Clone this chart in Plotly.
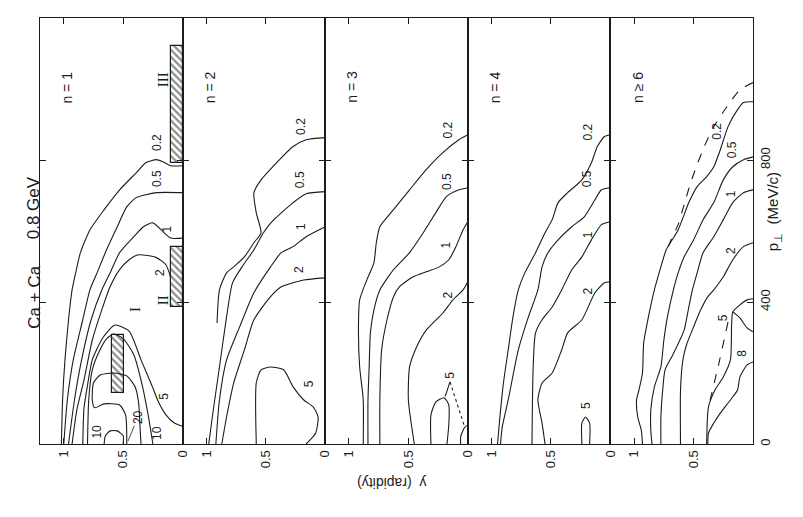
import plotly.graph_objects as go

# ------------------------------------------------------------------ data
PANEL_TITLES = ["n = 1", "n = 2", "n = 3", "n = 4", "n \u2265 6"]
RAPIDITY_RANGE = [1.2, 0]
PT_RANGE = [0, 1200]
RAP_TICKS = [1, 0.5, 0]
RAP_TICK_TEXT = ["1", "0.5", "0"]
PT_TICKS = [0, 400, 800]
PT_TICK_TEXT = ["0", "400", "800"]

# contour lines, (rapidity, p_perp MeV/c) pairs
# panel n = 1
n1_c02 = [(0, 784), (0.10, 784), (0.165, 795), (0.22, 801), (0.31, 792), (0.39, 764), (0.53, 716), (0.66, 660),
          (0.78, 603), (0.86, 539), (0.90, 482), (0.93, 434), (0.96, 350), (0.99, 237), (1.01, 124), (1.02, 0)]
n1_c05 = [(0, 708), (0.22, 708), (0.39, 694), (0.47, 668), (0.55, 612), (0.64, 547), (0.72, 482), (0.78, 434),
          (0.84, 350), (0.92, 237), (0.97, 124), (1.0, 0)]
n1_c1 = [(0, 580), (0.10, 580), (0.18, 603), (0.25, 623), (0.33, 612), (0.41, 584), (0.53, 539), (0.61, 482),
         (0.68, 434), (0.77, 350), (0.85, 237), (0.91, 124), (0.96, 0)]
n1_c2 = [(0.10, 468), (0.14, 505), (0.22, 525), (0.37, 533), (0.45, 519), (0.53, 491), (0.61, 443), (0.68, 378),
         (0.76, 293), (0.83, 180), (0.89, 96), (0.93, 0)]
n1_c5 = [(0.84, 0), (0.83, 100), (0.80, 166), (0.76, 237), (0.67, 300), (0.57, 335), (0.45, 318), (0.35, 237),
         (0.26, 166), (0.20, 116), (0.14, 82), (0.07, 59), (0, 50)]
n1_c10 = [(0.80, 0), (0.79, 124), (0.76, 209), (0.70, 262), (0.64, 296), (0.58, 310), (0.50, 297), (0.41, 251),
          (0.34, 166), (0.29, 82), (0.25, 0)]
n1_c10b = [(0.66, 0), (0.65, 23), (0.61, 37), (0.55, 37), (0.50, 23), (0.50, 0)]
n1_c20 = [(0.47, 0), (0.48, 82), (0.53, 110), (0.66, 113), (0.74, 102), (0.76, 124), (0.75, 172), (0.69, 195),
          (0.58, 200), (0.47, 192), (0.40, 161), (0.37, 116), (0.36, 59), (0.35, 0)]

# panel n = 2
n2_c02 = [(0, 863), (0.16, 857), (0.27, 838), (0.41, 792), (0.54, 744), (0.60, 708), (0.58, 651), (0.54, 595),
          (0.60, 567), (0.68, 527), (0.77, 499), (0.83, 482), (0.89, 434), (0.91, 341)]
n2_c05 = [(0, 711), (0.16, 705), (0.27, 680), (0.37, 651), (0.45, 626), (0.52, 595), (0.60, 547), (0.70, 499),
          (0.78, 454), (0.83, 358), (0.89, 217), (0.95, 76), (0.98, 0)]
n2_c1 = [(0, 612), (0.16, 584), (0.27, 556), (0.37, 539), (0.46, 499), (0.60, 426), (0.72, 330), (0.83, 237),
         (0.89, 124), (0.92, 0)]
n2_c2 = [(0, 468), (0.18, 462), (0.37, 443), (0.46, 415), (0.60, 350), (0.68, 265), (0.77, 172), (0.83, 76),
         (0.87, 0)]
n2_c5 = [(0.58, 0), (0.58, 172), (0.54, 209), (0.46, 217), (0.35, 209), (0.27, 161), (0.18, 124), (0.10, 104),
         (0.06, 76), (0.08, 31), (0.16, 0)]

# panel n = 3
n3_c02 = [(0, 871), (0.075, 857), (0.21, 821), (0.35, 773), (0.49, 716), (0.625, 660), (0.74, 612), (0.77, 567),
          (0.79, 510), (0.85, 462), (0.91, 406), (0.92, 313), (0.91, 217), (0.88, 124), (0.88, 0)]
n3_c05 = [(0, 722), (0.075, 716), (0.18, 697), (0.27, 651), (0.375, 595), (0.49, 539), (0.625, 491), (0.74, 434),
          (0.79, 378), (0.82, 313), (0.83, 217), (0.84, 124), (0.84, 0)]
n3_c1 = [(0, 626), (0.04, 603), (0.10, 556), (0.16, 519), (0.24, 499), (0.35, 485), (0.46, 471), (0.575, 443),
         (0.625, 415), (0.68, 350), (0.725, 265), (0.74, 124), (0.74, 0)]
n3_c2 = [(0, 457), (0.04, 434), (0.125, 406), (0.21, 369), (0.35, 321), (0.43, 274), (0.49, 217), (0.50, 124),
         (0.45, 0)]
n3_c5 = [(0.31, 0), (0.31, 82), (0.27, 118), (0.20, 130), (0.16, 110), (0.16, 54), (0.175, 0)]
n3_c5b = [(0, 54), (0.03, 45), (0.06, 20), (0.06, 0)]
n3_lead = [(0.15, 175), (0.19, 134)]
n3_lead_dot = [(0.15, 175), (0.03, 52)]

# panel n = 4
n4_c02 = [(0, 871), (0.05, 866), (0.11, 838), (0.16, 792), (0.24, 744), (0.36, 708), (0.44, 680), (0.49, 632),
          (0.55, 595), (0.63, 539), (0.72, 482), (0.775, 434), (0.82, 358), (0.86, 265), (0.90, 172), (0.93, 76),
          (0.95, 0)]
n4_c05 = [(0, 722), (0.075, 716), (0.13, 688), (0.22, 640), (0.325, 612), (0.44, 575), (0.525, 539), (0.575, 499),
          (0.61, 434), (0.69, 358), (0.775, 265), (0.86, 124), (0.91, 48), (0.925, 0)]
n4_c1 = [(0, 626), (0.075, 618), (0.16, 575), (0.24, 527), (0.325, 491), (0.41, 434), (0.49, 386), (0.575, 350),
         (0.63, 313), (0.65, 217), (0.66, 0)]
n4_c2 = [(0, 457), (0.05, 454), (0.13, 426), (0.24, 350), (0.36, 313), (0.41, 265), (0.49, 200), (0.575, 172),
         (0.61, 124), (0.575, 59), (0.55, 0)]
n4_c5 = [(0.24, 0), (0.24, 59), (0.21, 76), (0.175, 59), (0.175, 0)]

# panel n >= 6
n6_dash = [(0, 1018), (0.11, 998), (0.22, 950), (0.33, 894), (0.41, 838), (0.47, 787), (0.525, 736), (0.58, 674),
           (0.63, 618), (0.69, 575), (0.73, 541)]
n6_c02 = [(0, 964), (0.08, 962), (0.13, 942), (0.21, 894), (0.275, 829), (0.33, 781), (0.39, 753), (0.47, 725),
          (0.54, 680), (0.63, 603), (0.73, 547), (0.79, 482), (0.83, 434), (0.88, 358), (0.92, 285), (0.93, 200),
          (0.96, 152), (0.98, 124), (0.97, 76), (0.94, 39), (0.93, 0)]
n6_c05 = [(0, 809), (0.08, 801), (0.17, 781), (0.25, 744), (0.33, 680), (0.42, 632), (0.50, 575), (0.58, 527),
          (0.63, 482), (0.67, 434), (0.72, 358), (0.75, 293), (0.775, 217), (0.83, 161), (0.86, 96), (0.86, 39),
          (0.85, 0)]
n6_c1 = [(0, 716), (0.08, 708), (0.17, 680), (0.25, 632), (0.33, 584), (0.42, 539), (0.47, 482), (0.51, 434),
         (0.54, 386), (0.58, 321), (0.675, 251), (0.74, 209), (0.76, 152), (0.775, 76), (0.775, 0)]
n6_c2 = [(0, 567), (0.08, 556), (0.17, 519), (0.25, 471), (0.33, 434), (0.38, 415), (0.44, 378), (0.50, 330),
         (0.56, 279), (0.59, 237), (0.61, 152), (0.61, 0)]
n6_c5 = [(0, 409), (0.05, 406), (0.11, 392), (0.17, 372), (0.18, 336), (0.19, 237), (0.25, 189), (0.32, 152),
         (0.375, 104), (0.39, 0)]
n6_c5b = [(0.17, 372), (0.11, 355), (0.05, 327), (0, 316)]
n6_c8 = [(0, 231), (0.05, 223), (0.11, 189), (0.13, 152), (0.19, 124), (0.275, 87), (0.33, 59), (0.375, 31),
         (0.38, 0)]
n6_dash5 = [(0.21, 344), (0.29, 223), (0.375, 104)]

# hatched acceptance regions in panel n = 1 : name, rapidity low/high, p_perp low/high
REGION_NAMES = ["I", "II", "III"]
REGION_RAP_LO = [0.49, 0.0, 0.0]
REGION_RAP_HI = [0.59, 0.10, 0.10]
REGION_PT_LO = [144, 386, 792]
REGION_PT_HI = [307, 555, 1120]
REGION_LABEL_RAP = [0.40, 0.17, 0.17]
REGION_LABEL_PT = [378, 406, 1026]

# contour list: panel, points, dash
CONTOURS = [
    (1, n1_c02, "solid"), (1, n1_c05, "solid"), (1, n1_c1, "solid"), (1, n1_c2, "solid"),
    (1, n1_c5, "solid"), (1, n1_c10, "solid"), (1, n1_c10b, "solid"), (1, n1_c20, "solid"),
    (2, n2_c02, "solid"), (2, n2_c05, "solid"), (2, n2_c1, "solid"), (2, n2_c2, "solid"), (2, n2_c5, "solid"),
    (3, n3_c02, "solid"), (3, n3_c05, "solid"), (3, n3_c1, "solid"), (3, n3_c2, "solid"),
    (3, n3_c5, "solid"), (3, n3_c5b, "solid"), (3, n3_lead, "solid"), (3, n3_lead_dot, "dot"),
    (4, n4_c02, "solid"), (4, n4_c05, "solid"), (4, n4_c1, "solid"), (4, n4_c2, "solid"), (4, n4_c5, "solid"),
    (5, n6_dash, "dash"), (5, n6_c02, "solid"), (5, n6_c05, "solid"), (5, n6_c1, "solid"), (5, n6_c2, "solid"),
    (5, n6_c5, "solid"), (5, n6_c5b, "solid"), (5, n6_c8, "solid"), (5, n6_dash5, "dash"),
]

# contour level labels: panel, text, rapidity, p_perp
LEVEL_LABELS = [
    (1, "0.2", 0.21, 850), (1, "0.5", 0.21, 748), (1, "1", 0.13, 605), (1, "2", 0.19, 482),
    (1, "5", 0.16, 135), (1, "10", 0.21, 30), (1, "10", 0.72, 35),
    (2, "0.2", 0.21, 894), (2, "0.5", 0.21, 744), (2, "1", 0.21, 612), (2, "2", 0.22, 490), (2, "5", 0.14, 170),
    (3, "0.2", 0.17, 885), (3, "0.5", 0.17, 740), (3, "1", 0.18, 560), (3, "2", 0.17, 420), (3, "5", 0.15, 195),
    (4, "0.2", 0.19, 880), (4, "0.5", 0.19, 748), (4, "1", 0.19, 590), (4, "2", 0.19, 432), (4, "5", 0.21, 108),
    (5, "0.2", 0.31, 880), (5, "0.5", 0.17, 830), (5, "1", 0.19, 705), (5, "2", 0.19, 545),
    (5, "5", 0.25, 355), (5, "8", 0.09, 255),
]

# ------------------------------------------------------------------ figure
INK = "#1c1c1c"
FONT = "Liberation Sans, Arial, sans-serif"
fig = go.Figure()


def ax(i, kind):
    return kind if i == 1 else f"{kind}{i}"


for panel, pts, dash in CONTOURS:
    fig.add_trace(go.Scatter(
        x=[p[0] for p in pts], y=[p[1] for p in pts], mode="lines",
        line=dict(color=INK, width=1.1, dash=dash, shape="spline", smoothing=0.6),
        xaxis=ax(panel, "x"), yaxis=ax(panel, "y"), showlegend=False, hoverinfo="skip"))

fig.add_trace(go.Bar(
    x=[(lo + hi) / 2 for lo, hi in zip(REGION_RAP_LO, REGION_RAP_HI)],
    width=[hi - lo for lo, hi in zip(REGION_RAP_LO, REGION_RAP_HI)],
    base=REGION_PT_LO,
    y=[hi - lo for lo, hi in zip(REGION_PT_LO, REGION_PT_HI)],
    marker=dict(color="white", line=dict(color=INK, width=1.2),
                pattern=dict(shape="\\", fgcolor=INK, bgcolor="white", size=5, solidity=0.45)),
    xaxis="x", yaxis="y", showlegend=False, hoverinfo="skip"))

annotations = []
for panel, text, r, pt in LEVEL_LABELS:
    annotations.append(dict(x=r, y=pt, xref=ax(panel, "x"), yref=ax(panel, "y"), text=text, showarrow=False,
                            textangle=-90, font=dict(family=FONT, size=12, color=INK)))
annotations.append(dict(x=0.46, y=8, xref="x", yref="y", text="20", showarrow=True, arrowhead=0, arrowwidth=0.8,
                        arrowcolor=INK, ax=10, ay=-24, textangle=-90, font=dict(family=FONT, size=12, color=INK)))
for name, r, pt in zip(REGION_NAMES, REGION_LABEL_RAP, REGION_LABEL_PT):
    annotations.append(dict(x=r, y=pt, xref="x", yref="y", text=name, showarrow=False, textangle=-90,
                            font=dict(family="Liberation Serif, serif", size=15, color=INK)))
for i, t in enumerate(PANEL_TITLES, start=1):
    annotations.append(dict(x=0.97, y=1005, xref=ax(i, "x"), yref=ax(i, "y"), text=t, showarrow=False,
                            textangle=-90, font=dict(family=FONT, size=14, color=INK)))

annotations += [
    dict(x=-0.025, y=0.345, xref="paper", yref="paper", text="Ca + Ca", showarrow=False, textangle=-90,
         font=dict(family=FONT, size=17, color=INK)),
    dict(x=-0.025, y=0.555, xref="paper", yref="paper", text="0.8 GeV", showarrow=False, textangle=-90,
         font=dict(family=FONT, size=17, color=INK)),
    dict(x=0.494, y=-0.115, xref="paper", yref="paper", text="y  (rapidity)", showarrow=False, textangle=180,
         font=dict(family=FONT, size=14, color=INK)),
    dict(x=1.046, y=0.545, xref="paper", yref="paper", text="p<sub>\u22a5</sub>  (MeV/c)", showarrow=False,
         textangle=-90, font=dict(family=FONT, size=15, color=INK)),
]

layout = dict(width=803, height=517, margin=dict(l=40, r=50, t=18, b=73),
              paper_bgcolor="white", plot_bgcolor="white", annotations=annotations, bargap=0)
for i in range(1, 6):
    xk = "xaxis" if i == 1 else f"xaxis{i}"
    yk = "yaxis" if i == 1 else f"yaxis{i}"
    tv = RAP_TICKS if i < 5 else RAP_TICKS[:2]
    tt = RAP_TICK_TEXT if i < 5 else RAP_TICK_TEXT[:2]
    layout[xk] = dict(domain=[(i - 1) / 5, i / 5], range=RAPIDITY_RANGE, anchor=ax(i, "y"),
                      tickmode="array", tickvals=tv, ticktext=tt, tickangle=-90,
                      ticks="inside", ticklen=6, tickcolor=INK, mirror="ticks", showline=True,
                      linecolor=INK, linewidth=1.1, showgrid=False, zeroline=False,
                      tickfont=dict(family=FONT, size=13, color=INK))
    layout[yk] = dict(domain=[0, 1], range=PT_RANGE, anchor=ax(i, "x"),
                      tickmode="array", tickvals=PT_TICKS, ticktext=PT_TICK_TEXT,
                      showticklabels=(i == 5), side="right" if i == 5 else "left", tickangle=-90,
                      ticks="inside", ticklen=6, tickcolor=INK, mirror="ticks", showline=True,
                      linecolor=INK, linewidth=1.1, showgrid=False, zeroline=False,
                      tickfont=dict(family=FONT, size=13, color=INK))
    if i > 1:
        layout[yk]["matches"] = "y"
fig.update_layout(**layout)

fig.write_html("out.html")
